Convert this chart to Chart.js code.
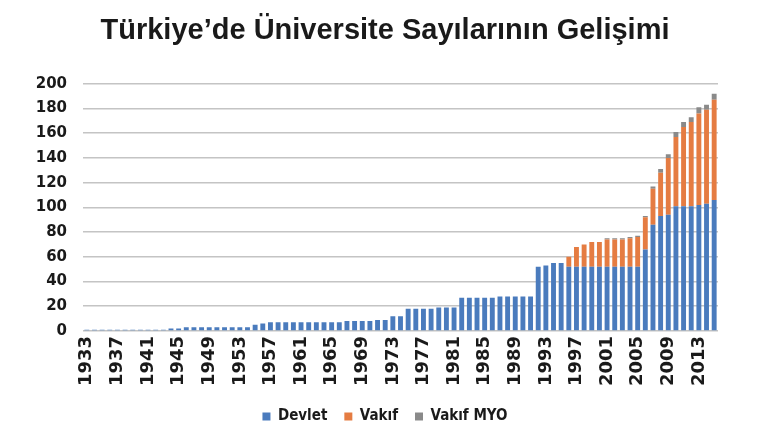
<!DOCTYPE html>
<html>
<head>
<meta charset="utf-8">
<script src="https://cdn.jsdelivr.net/npm/chart.js@4"></script>
<style>
  html, body { margin: 0; padding: 0; background: #ffffff; }
  #wrap { width: 770px; height: 434px; position: relative; }
</style>
</head>
<body>
<div id="wrap"><canvas id="c"></canvas></div>
<script>
const years = ['1933','1934','1935','1936','1937','1938','1939','1940','1941','1942','1943','1944','1945','1946','1947','1948','1949','1950','1951','1952','1953','1954','1955','1956','1957','1958','1959','1960','1961','1962','1963','1964','1965','1966','1967','1968','1969','1970','1971','1972','1973','1974','1975','1976','1977','1978','1979','1980','1981','1982','1983','1984','1985','1986','1987','1988','1989','1990','1991','1992','1993','1994','1995','1996','1997','1998','1999','2000','2001','2002','2003','2004','2005','2006','2007','2008','2009','2010','2011','2012','2013','2014','2015'];

const devlet = [1,1,1,1,1,1,1,1,1,1,1, 2,2, 3,3,3,3,3,3,3,3,3, 5, 6, 7,7,7,7,7,7,7,7,7,7, 8,8,8,8, 9,9, 12,12, 18,18,18,18, 19,19,19, 27,27,27,27,27, 28,28,28,28,28, 52,53,55,55, 52,52,52,52,52,52,52,52,52,52, 66,86,93,94,101,101,101,102,103,106];

const vakif = [0,0,0,0,0,0,0,0,0,0, 0,0,0,0,0,0,0,0,0,0, 0,0,0,0,0,0,0,0,0,0, 0,0,0,0,0,0,0,0,0,0, 0,0,0,0,0,0,0,0,0,0, 0,0,0,0,0,0,0,0,0, 0,0,0,0, 8,16,18,20,20,22,22,22,23,24, 26,29,35,46,56,64,68,74,76,81];

const vakifMyo = [0,0,0,0,0,0,0,0,0,0, 0,0,0,0,0,0,0,0,0,0, 0,0,0,0,0,0,0,0,0,0, 0,0,0,0,0,0,0,0,0,0, 0,0,0,0,0,0,0,0,0,0, 0,0,0,0,0,0,0,0,0,0, 0,0,0,0,0,0,0,0, 1,1,1,1,1, 1,2,3,3,4,4,4,5,4,5];

const seriesNames = ['Devlet', 'Vakıf', 'Vakıf MYO'];
const yTicks = [0,20,40,60,80,100,120,140,160,180,200];
const titleText = 'Türkiye’de Üniversite Sayılarının Gelişimi';

const colors = ['#4a7bbd', '#e57c42', '#8a8a8a'];

new Chart(document.getElementById('c'), {
  type: 'bar',
  data: {
    labels: years,
    datasets: [
      { label: seriesNames[0], data: devlet, backgroundColor: colors[0] },
      { label: seriesNames[1], data: vakif, backgroundColor: colors[1] },
      { label: seriesNames[2], data: vakifMyo, backgroundColor: colors[2] }
    ]
  },
  options: {
    responsive: true,
    maintainAspectRatio: false,
    animation: false,
    devicePixelRatio: 1,
    layout: { padding: { left: 0, right: 0, top: 0, bottom: 0 } },
    datasets: { bar: { barPercentage: 0.64, categoryPercentage: 1.0, borderWidth: 0 } },
    plugins: {
      title: {
        display: true,
        text: titleText,
        color: '#1a1a1a',
        font: { family: 'Liberation Sans', size: 29, weight: 'bold' },
        padding: { top: 14, bottom: 35 }
      },
      legend: {
        display: true,
        position: 'bottom',
        labels: {
          boxWidth: 8,
          boxHeight: 8,
          padding: 17,
          color: '#1a1a1a',
          font: { family: 'DejaVu Sans Condensed', size: 15, weight: 'bold' }
        }
      },
      tooltip: { enabled: false }
    },
    scales: {
      x: {
        stacked: true,
        afterFit: function (scale) { scale.height = 61; },
        grid: { display: false, drawTicks: false },
        border: { display: false },
        ticks: {
          autoSkip: false,
          minRotation: 90,
          maxRotation: 90,
          padding: 5,
          color: '#1a1a1a',
          font: { family: 'DejaVu Sans', size: 18, weight: 'bold' },
          callback: function (val, idx) { return idx % 4 === 0 ? years[idx] : ''; }
        }
      },
      y: {
        stacked: true,
        min: 0,
        max: 200,
        afterFit: function (scale) { scale.width = 83; },
        afterBuildTicks: function (scale) { scale.ticks = yTicks.map(v => ({ value: v })); },
        grid: { color: '#c4c4c4', lineWidth: 1.6, drawTicks: false },
        border: { display: false },
        ticks: {
          padding: 16,
          color: '#1a1a1a',
          font: { family: 'DejaVu Sans', size: 15, weight: 'bold' }
        }
      },
      yRight: {
        type: 'linear',
        position: 'right',
        display: true,
        afterFit: function (scale) { scale.width = 52; },
        grid: { display: false, drawTicks: false },
        border: { display: false },
        ticks: { display: false }
      }
    }
  }
});
</script>
</body>
</html>
